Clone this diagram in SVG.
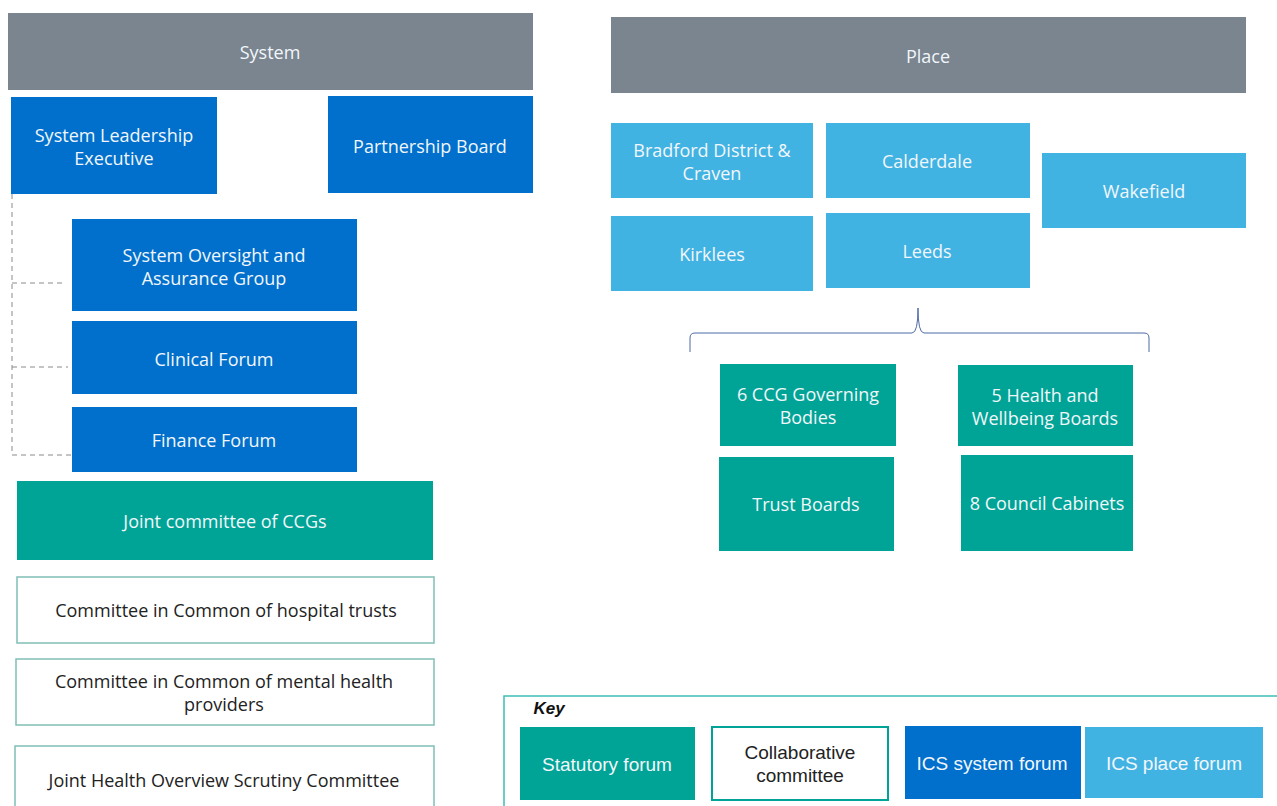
<svg xmlns="http://www.w3.org/2000/svg" width="1277" height="806" viewBox="0 0 1277 806">
<style>
text{font-family:"Open Sans","Noto Sans",sans-serif;font-size:18px;text-anchor:middle;dominant-baseline:central}
.hdr{fill:#7a8590}
.sys{fill:#0070cc}
.plc{fill:#41b3e3}
.sta{fill:#00a496}
.col{fill:#fff;stroke:#7fbfb5;stroke-width:1.5}
.w{fill:#f2f6fa}
.d{fill:#222}
.k{font-family:"Liberation Sans",sans-serif;font-size:19px}
.conn{fill:none;stroke:#8a8a8a;stroke-width:1;stroke-dasharray:5,4}
</style>
<g id="system-header"><rect class="hdr" x="8" y="13" width="525" height="77"/><text class="w" x="270" y="52">System</text></g>
<g id="sle"><rect class="sys" x="11" y="97" width="206" height="97"/><text class="w" x="114" y="135">System Leadership</text><text class="w" x="114" y="158">Executive</text></g>
<g id="partnership"><rect class="sys" x="328" y="96" width="205" height="97"/><text class="w" x="430" y="146">Partnership Board</text></g>
<g id="soag"><rect class="sys" x="72" y="219" width="285" height="92"/><text class="w" x="214" y="255">System Oversight and</text><text class="w" x="214" y="278">Assurance Group</text></g>
<g id="clinical"><rect class="sys" x="72" y="321" width="285" height="73"/><text class="w" x="214" y="359">Clinical Forum</text></g>
<g id="finance"><rect class="sys" x="72" y="407" width="285" height="65"/><text class="w" x="214" y="440">Finance Forum</text></g>
<g id="jcccg"><rect class="sta" x="17" y="481" width="416" height="79"/><text class="w" x="225" y="521">Joint committee of CCGs</text></g>
<g id="cic-hosp"><rect class="col" x="17" y="577" width="417" height="66"/><text class="d" x="226" y="610">Committee in Common of hospital trusts</text></g>
<g id="cic-mh"><rect class="col" x="16" y="659" width="418" height="66"/><text class="d" x="224" y="681">Committee in Common of mental health</text><text class="d" x="224" y="704">providers</text></g>
<g id="jhosc"><rect class="col" x="15" y="746" width="419" height="70"/><text class="d" x="224" y="780">Joint Health Overview Scrutiny Committee</text></g>

<g id="place-header"><rect class="hdr" x="611" y="17" width="635" height="76"/><text class="w" x="928" y="56">Place</text></g>
<g id="bradford"><rect class="plc" x="611" y="123" width="202" height="75"/><text class="w" x="712" y="150">Bradford District &amp;</text><text class="w" x="712" y="173">Craven</text></g>
<g id="calderdale"><rect class="plc" x="826" y="123" width="204" height="75"/><text class="w" x="927" y="161">Calderdale</text></g>
<g id="wakefield"><rect class="plc" x="1042" y="153" width="204" height="75"/><text class="w" x="1144" y="191">Wakefield</text></g>
<g id="kirklees"><rect class="plc" x="611" y="216" width="202" height="75"/><text class="w" x="712" y="254">Kirklees</text></g>
<g id="leeds"><rect class="plc" x="826" y="213" width="204" height="75"/><text class="w" x="927" y="251">Leeds</text></g>
<g id="ccg"><rect class="sta" x="720" y="364" width="176" height="82"/><text class="w" x="808" y="394">6 CCG Governing</text><text class="w" x="808" y="417">Bodies</text></g>
<g id="hwb"><rect class="sta" x="958" y="365" width="175" height="81"/><text class="w" x="1045" y="395">5 Health and</text><text class="w" x="1045" y="418">Wellbeing Boards</text></g>
<g id="trust"><rect class="sta" x="719" y="457" width="175" height="94"/><text class="w" x="806" y="504">Trust Boards</text></g>
<g id="council"><rect class="sta" x="961" y="455" width="172" height="96"/><text class="w" x="1047" y="503">8 Council Cabinets</text></g>

<g id="connectors">
<path class="conn" d="M12 194 V455 H72 M12 283 H66 M12 367 H68"/>
<path d="M690 352 V338 Q690 333 695 333 H912 Q918 333 918 308 Q918 333 924 333 H1144 Q1149 333 1149 338 V352" fill="none" stroke="#4d6aa5" stroke-width="1"/>
</g>

<g id="key">
<rect x="504" y="696" width="780" height="120" fill="#fff" stroke="#3cbfb4" stroke-width="1.5"/>
<text x="549" y="708" style="font-family:'Liberation Sans',sans-serif;font-weight:bold;font-style:italic;font-size:17px;fill:#111">Key</text>
<g id="key-statutory"><rect class="sta" x="520" y="727" width="175" height="73"/><text class="w k" x="607" y="764">Statutory forum</text></g>
<g id="key-collab"><rect fill="#fff" stroke="#00a496" stroke-width="2" x="712" y="727" width="176" height="73"/><text class="d k" x="800" y="752">Collaborative</text><text class="d k" x="800" y="775">committee</text></g>
<g id="key-system"><rect class="sys" x="905" y="726" width="176" height="73"/><text class="w k" x="992" y="763">ICS system forum</text></g>
<g id="key-place"><rect class="plc" x="1085" y="727" width="178" height="71"/><text class="w k" x="1174" y="763">ICS place forum</text></g>
</g>
</svg>
